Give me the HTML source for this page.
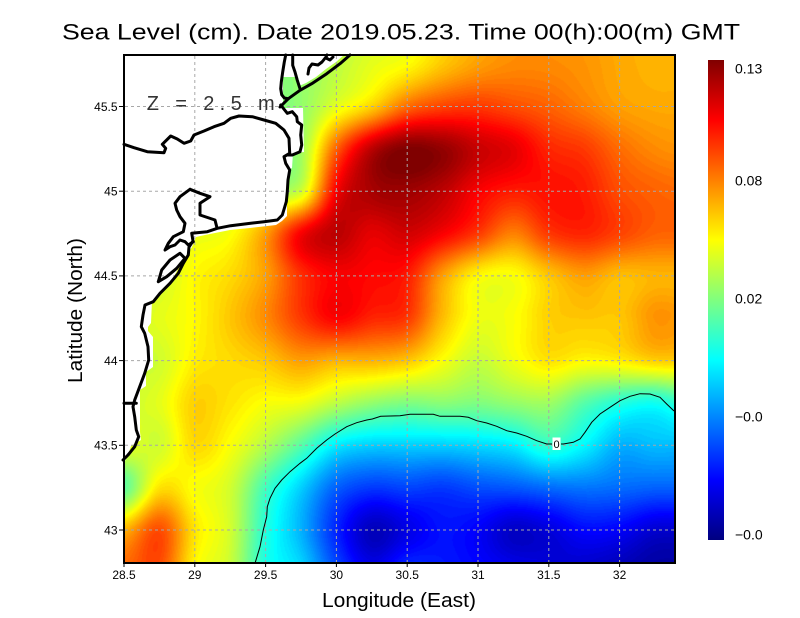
<!DOCTYPE html>
<html><head><meta charset="utf-8"><style>
html,body{margin:0;padding:0;background:#fff;}
#wrap{position:relative;width:800px;height:618px;overflow:hidden;background:#fff;}
#c{position:absolute;left:124px;top:55px;}
svg{position:absolute;left:0;top:0;}
text{font-family:"Liberation Sans",sans-serif;}
</style></head><body><div id="wrap">
<canvas id="c" width="551" height="508"></canvas>
<svg width="800" height="618" viewBox="0 0 800 618" xmlns="http://www.w3.org/2000/svg">
<defs>
<linearGradient id="jet" x1="0" y1="0" x2="0" y2="1">
<stop offset="0" stop-color="#800000"/>
<stop offset="0.125" stop-color="#ff0000"/>
<stop offset="0.375" stop-color="#ffff00"/>
<stop offset="0.625" stop-color="#00ffff"/>
<stop offset="0.875" stop-color="#0000ff"/>
<stop offset="1" stop-color="#000080"/>
</linearGradient>
</defs>
<!-- land mask -->
<polygon fill="#fff" points="124,55 344,55 336,62 326,69 316,77 306,83 299,86 298,77 283,77 283,103 280,105 280,108 303,108 304,152 293,153 292,168 289,170 289,192 287,196 287,216 282,221 276,225 250,228 230,230 215,233 205,235 196,237 192,247 186,256 183,262 178,269 172,280 166,288 160,295 152,301 151,323 148,327 148,331 153,337 153,367 146,372 146,386 140,390 140,432 141,440 131,446 127,458 124,462"/>
<!-- grid -->
<g stroke="#a8a8a8" stroke-width="1" stroke-dasharray="3 3" fill="none">
<line x1="194.8" y1="56" x2="194.8" y2="562"/>
<line x1="265.6" y1="56" x2="265.6" y2="562"/>
<line x1="336.4" y1="56" x2="336.4" y2="562"/>
<line x1="407.2" y1="56" x2="407.2" y2="562"/>
<line x1="478" y1="56" x2="478" y2="562"/>
<line x1="548.8" y1="56" x2="548.8" y2="562"/>
<line x1="619.6" y1="56" x2="619.6" y2="562"/>
<line x1="125" y1="106.5" x2="674" y2="106.5"/>
<line x1="125" y1="191.2" x2="674" y2="191.2"/>
<line x1="125" y1="275.9" x2="674" y2="275.9"/>
<line x1="125" y1="360.6" x2="674" y2="360.6"/>
<line x1="125" y1="445.3" x2="674" y2="445.3"/>
<line x1="125" y1="530" x2="674" y2="530"/>
</g>
<!-- contour 0 -->
<polyline fill="none" stroke="#000" stroke-width="1" points="255,563.3 260,546.7 263.3,530 266.7,516.7 267.3,506.7 270,498.3 275,488.3 281.7,480 290,471.7 300,463.3 306.7,458.3 316.7,448.3 326.7,440 335,434 346.7,426.7 356.7,422.7 366.7,420 372.3,419 380.7,416.3 400,415.7 410,414.3 433.3,414.3 440,416.3 460,416.3 468.3,417.3 476.7,420.7 486.7,423 496.7,426.3 506.7,430.7 516.7,433 526.7,436.3 536.7,440.7 546.7,444 552,444"/>
<polyline fill="none" stroke="#000" stroke-width="1" points="561,444 563.3,444 573.3,442.3 580,439 585,432.3 591.7,422.3 600,414 610,407.3 620,400.7 630,396.3 640,393.7 650,394 660,397.3 666.7,404 674,411"/>
<rect x="552.5" y="437.5" width="8" height="12.5" fill="#fff"/>
<text x="556.5" y="448" font-size="11" text-anchor="middle" fill="#000">0</text>
<!-- coastline -->
<g fill="none" stroke="#000" stroke-width="3" stroke-linejoin="round" stroke-linecap="round">
<polyline points="285.7,55 284.3,62 282.7,72 281.3,82 280.7,88.7 281.7,94.7 284.3,98 288.3,98.7"/>
<polyline points="292.7,55 292.7,65.3 295,72 297.3,80.3 300,88.7"/>
<polyline points="280,107 288.3,98.7 300,90.3 311.7,83.7 326.7,73.7 340,63.7 350,55"/>
<polyline points="308,74 309,68 312,64 318,65 322,62 326,57 327,55"/>
<polyline points="326,58 330,60 333,57"/>
<polyline points="280.7,105 287.3,113.3 292.3,111.7 296.7,116.7 297.3,121.7 301.7,125 300.7,135 301.7,145 300,151.7 292.3,155 287.3,155"/>
<polyline points="124,144.3 134,147.7 147.3,151.7 164,152.7 165.7,148.3 162.3,144.3 170.7,136 177.3,139 184,143.3 190.7,141 194,135 204,131 214,126.7 224,123.3 230.7,118.3 239,116 252.3,116.7 264,120 275.7,123.3 284,130 289,138.3 289.7,153.3 284,156.7 285.7,163.3 289.7,170 288,180 287.3,191.7 286.3,201.7 282.3,215 277.3,220 264,221.7 250.7,223.3 230.7,225.7 217.3,228.3 207.3,231.7 196.7,232.7 191.7,233.3 193,241 189,247 188.3,255 183.3,263.3 178.3,273.3 170,283.3 160,293.3 153.3,301.7 145,305 143,315 141.3,326.7 144.7,333.3 148,346.7 148.7,360 144.7,373.3 139.7,386.7 134.7,400 133,406.7 134.7,416.7 136.3,430 138.7,436.7 134.7,446.7 128,455 123,460"/>
<polyline points="190,189.3 200,193.3 210,196.7 200,203.3 200,215 215,220 216.7,226.7"/>
<polyline points="193.3,241.7 188.3,245 185,241.7 180,240 175,245 170,246.7 165,250 168.3,243.3 173.3,236.7 183.3,231.7 185,223.3 180,216.7 176.7,210 175,203.3 180,196.7 190,189.3"/>
<polyline points="158.3,281.7 161.7,270 170,260 180,253.3 185,258.3 176.7,268.3 166.7,276.7 158.3,281.7"/>
<polyline points="124,403.3 136.3,403.3"/>
</g>
<!-- frame -->
<rect x="124" y="55" width="551" height="508" fill="none" stroke="#000" stroke-width="2"/>
<!-- ticks -->
<g stroke="#000" stroke-width="1">
<line x1="119" y1="106.5" x2="124" y2="106.5"/><line x1="119" y1="191.2" x2="124" y2="191.2"/>
<line x1="119" y1="275.9" x2="124" y2="275.9"/><line x1="119" y1="360.6" x2="124" y2="360.6"/>
<line x1="119" y1="445.3" x2="124" y2="445.3"/><line x1="119" y1="530" x2="124" y2="530"/>
<line x1="124" y1="563" x2="124" y2="567"/><line x1="194.8" y1="563" x2="194.8" y2="567"/>
<line x1="265.6" y1="563" x2="265.6" y2="567"/><line x1="336.4" y1="563" x2="336.4" y2="567"/>
<line x1="407.2" y1="563" x2="407.2" y2="567"/><line x1="478" y1="563" x2="478" y2="567"/>
<line x1="548.8" y1="563" x2="548.8" y2="567"/><line x1="619.6" y1="563" x2="619.6" y2="567"/>
</g>
<!-- tick labels -->
<g font-size="12" fill="#000" text-anchor="middle">
<text x="124" y="579">28.5</text><text x="194.8" y="579">29</text><text x="265.6" y="579">29.5</text>
<text x="336.4" y="579">30</text><text x="407.2" y="579">30.5</text><text x="478" y="579">31</text>
<text x="548.8" y="579">31.5</text><text x="619.6" y="579">32</text>
</g>
<g font-size="12" fill="#000" text-anchor="end">
<text x="117.5" y="110.8">45.5</text><text x="117.5" y="195.5">45</text><text x="117.5" y="280.2">44.5</text>
<text x="117.5" y="364.9">44</text><text x="117.5" y="449.6">43.5</text><text x="117.5" y="534.3">43</text>
</g>
<!-- titles -->
<text x="62" y="39.3" font-size="22" fill="#000" textLength="678" lengthAdjust="spacingAndGlyphs">Sea Level (cm). Date 2019.05.23. Time 00(h):00(m) GMT</text>
<text x="322" y="607" font-size="20" fill="#000" textLength="154" lengthAdjust="spacingAndGlyphs">Longitude (East)</text>
<text transform="translate(82,383) rotate(-90)" x="0" y="0" font-size="20" fill="#000" textLength="145" lengthAdjust="spacingAndGlyphs">Latitude (North)</text>
<text x="146.7" y="110" font-size="20" fill="#333" textLength="128" lengthAdjust="spacing">Z = 2.5 m</text>
<!-- colorbar -->
<rect x="708" y="60" width="16" height="480" fill="url(#jet)"/>
<g font-size="14" fill="#000">
<text x="735" y="73.5">0.13</text>
<text x="735" y="185.5">0.08</text>
<text x="735" y="303.5">0.02</text>
<text x="735" y="421.5">−0.0</text>
<text x="735" y="539.5">−0.0</text>
</g>
</svg>
</div>
<script>
(function(){
var R1=[0.5,0.5,0.5,0.5,0.5,0.52,0.56,0.6,0.625,0.68,0.72,0.74,0.74,0.73,0.71,0.70,0.70];
var G=[R1,R1,
[0.5,0.5,0.5,0.5,0.5,0.52,0.6,0.67,0.77,0.81,0.82,0.8,0.78,0.75,0.72,0.71,0.71],
[0.5,0.5,0.5,0.5,0.5,0.53,0.78,0.94,1.0,0.98,0.93,0.9,0.84,0.82,0.77,0.74,0.73],
[0.55,0.55,0.55,0.55,0.55,0.58,0.88,0.96,0.97,0.94,0.88,0.85,0.86,0.85,0.8,0.78,0.77],
[0.58,0.58,0.6,0.62,0.72,0.88,0.94,0.9,0.92,0.88,0.82,0.75,0.82,0.84,0.81,0.78,0.78],
[0.58,0.58,0.63,0.66,0.72,0.83,0.88,0.87,0.85,0.72,0.63,0.62,0.68,0.72,0.69,0.70,0.70],
[0.58,0.6,0.63,0.68,0.74,0.82,0.875,0.84,0.82,0.69,0.61,0.62,0.67,0.68,0.68,0.73,0.72],
[0.58,0.58,0.64,0.66,0.68,0.72,0.7,0.7,0.68,0.62,0.57,0.61,0.65,0.63,0.64,0.67,0.67],
[0.58,0.6,0.67,0.65,0.62,0.61,0.56,0.52,0.5,0.51,0.5,0.52,0.53,0.46,0.41,0.39,0.44],
[0.6,0.58,0.66,0.62,0.55,0.46,0.36,0.33,0.33,0.33,0.34,0.36,0.42,0.37,0.3,0.31,0.31],
[0.47,0.65,0.62,0.58,0.44,0.33,0.22,0.18,0.19,0.18,0.2,0.21,0.23,0.24,0.23,0.22,0.22],
[0.7,0.8,0.65,0.58,0.41,0.3,0.16,0.06,0.1,0.14,0.12,0.07,0.09,0.13,0.12,0.08,0.08],
[0.78,0.8,0.63,0.57,0.4,0.34,0.2,0.11,0.17,0.15,0.13,0.11,0.09,0.07,0.05,0.03,0.03]];
var NR=G.length,NC=G[0].length;
function cr(p0,p1,p2,p3,t){return p1+0.5*t*(p2-p0+t*(2*p0-5*p1+4*p2-p3+t*(3*(p1-p2)+p3-p0)));}
function val(gx,gy){
  var ix=Math.floor(gx),iy=Math.floor(gy),fx=gx-ix,fy=gy-iy,rs=[];
  for(var j=-1;j<=2;j++){
    var r=G[Math.min(NR-1,Math.max(0,iy+j))];
    var a=[];
    for(var k=-1;k<=2;k++){a.push(r[Math.min(NC-1,Math.max(0,ix+k))]);}
    rs.push(cr(a[0],a[1],a[2],a[3],fx));
  }
  return cr(rs[0],rs[1],rs[2],rs[3],fy);
}
function cl(x){return x<0?0:(x>1?1:x);}
var cv=document.getElementById('c'),ctx=cv.getContext('2d');
var W=551,H=508,im=ctx.createImageData(W,H),d=im.data;
for(var py=0;py<H;py++){
  var gy=(55+py+0.5-21.8)/42.35;
  for(var px=0;px<W;px++){
    var gx=(px+0.5)/35.4;
    var t=cl(val(gx,gy));
    t=Math.round(t*120)/120;
    var i=(py*W+px)*4;
    d[i]=255*cl(1.5-Math.abs(4*t-3));
    d[i+1]=255*cl(1.5-Math.abs(4*t-2));
    d[i+2]=255*cl(1.5-Math.abs(4*t-1));
    d[i+3]=255;
  }
}
ctx.putImageData(im,0,0);
})();
</script>
</body></html>
